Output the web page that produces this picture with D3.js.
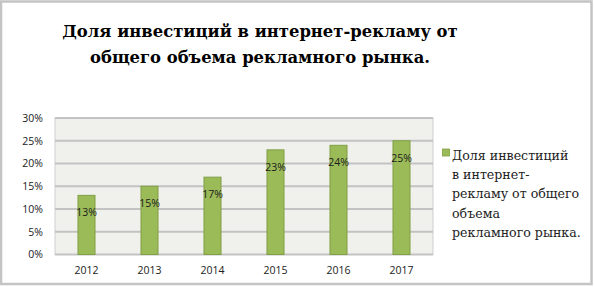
<html>
<head>
<script src="https://d3js.org/d3.v7.min.js"></script>
<style>
  body { margin: 0; background: #fff; }
  .title { font-family: "DejaVu Serif", serif; font-weight: bold; font-size: 16.4px; fill: #000; }
  .tick text { font-family: "Open Sans", "Liberation Sans", sans-serif; font-size: 10.5px; fill: #222; }
  .legend { font-family: "DejaVu Serif", serif; font-size: 12.6px; fill: #222; }
  .lbl { font-family: "Open Sans", "Liberation Sans", sans-serif; font-size: 10.5px; fill: #1a1a1a; }
</style>
</head>
<body>
<svg id="chart" width="594" height="287"></svg>
<script>
const years = ["2012", "2013", "2014", "2015", "2016", "2017"];
const shares = [13, 15, 17, 23, 24, 25];
const yTicks = [0, 5, 10, 15, 20, 25, 30];
const titleLines = ["Доля инвестиций в интернет-рекламу от", "общего объема рекламного рынка."];
const legendLines = ["Доля инвестиций", "в интернет-", "рекламу от общего", "объема", "рекламного рынка."];

const svg = d3.select("#chart");
const plot = { left: 55, right: 433, top: 118, bottom: 254.5 };

// outer frame
svg.append("rect")
  .attr("x", 1).attr("y", 1.5).attr("width", 590.5).attr("height", 282.5)
  .attr("fill", "#fff").attr("stroke", "#c4c4c4").attr("stroke-width", 2.5);

svg.selectAll("text.title").data(titleLines).join("text")
  .attr("class", "title")
  .attr("x", 260).attr("y", (d, i) => 37 + i * 25.5)
  .attr("text-anchor", "middle")
  .text(d => d);

const x = d3.scaleBand().domain(years).range([plot.left, plot.right]).paddingInner(0.73).paddingOuter(0.365);
const y = d3.scaleLinear().domain([0, 30]).range([plot.bottom, plot.top]);

svg.append("rect")
  .attr("x", plot.left).attr("y", plot.top)
  .attr("width", plot.right - plot.left).attr("height", plot.bottom - plot.top)
  .attr("fill", "#f0f1ec").attr("stroke", "#cfcfcf").attr("stroke-width", 1);

svg.append("g").selectAll("line").data(yTicks).join("line")
  .attr("x1", plot.left).attr("x2", plot.right)
  .attr("y1", d => y(d)).attr("y2", d => y(d))
  .attr("stroke", "#c3c3c3").attr("stroke-width", 1.8);

const yAxis = svg.append("g")
  .attr("transform", `translate(${plot.left},0)`)
  .call(d3.axisLeft(y).tickValues(yTicks).tickSize(0).tickPadding(12).tickFormat(d => d + "%"));
yAxis.select(".domain").remove();

const xAxis = svg.append("g")
  .attr("transform", `translate(0,${plot.bottom})`)
  .call(d3.axisBottom(x).tickSize(0).tickPadding(12));
xAxis.select(".domain").remove();

svg.append("g").selectAll("rect").data(shares).join("rect")
  .attr("x", (d, i) => x(years[i]))
  .attr("y", d => y(d))
  .attr("width", x.bandwidth())
  .attr("height", d => y(0) - y(d))
  .attr("fill", "#9bbb59").attr("stroke", "#7f9f44").attr("stroke-width", 1);

svg.append("g").selectAll("text").data(shares).join("text")
  .attr("class", "lbl")
  .attr("x", (d, i) => x(years[i]) + x.bandwidth() / 2)
  .attr("y", d => y(d) + 21)
  .attr("text-anchor", "middle")
  .text(d => d + "%");

// legend
svg.append("rect")
  .attr("x", 442.5).attr("y", 149).attr("width", 7).attr("height", 7)
  .attr("fill", "#9bbb59").attr("stroke", "#7f9f44").attr("stroke-width", 0.8);
svg.selectAll("text.legend").data(legendLines).join("text")
  .attr("class", "legend")
  .attr("x", 452).attr("y", (d, i) => 160 + i * 19.2)
  .text(d => d);
</script>
</body>
</html>
